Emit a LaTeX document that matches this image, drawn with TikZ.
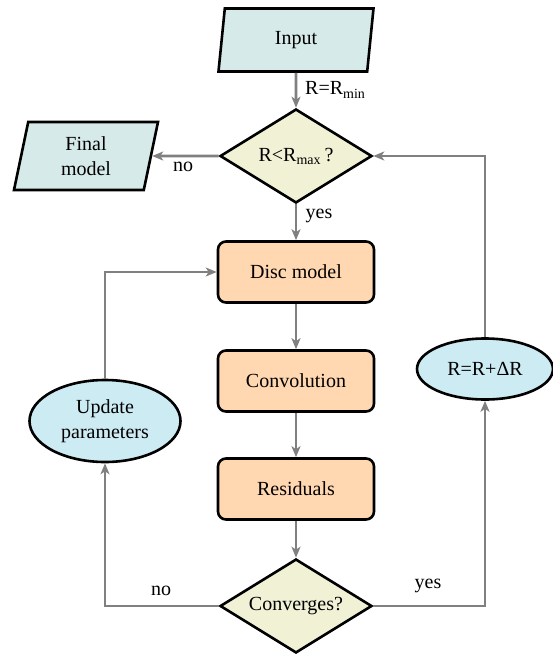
\documentclass[tikz,border=0pt]{standalone}
\usetikzlibrary{shapes.geometric,arrows.meta}
\usepackage{fontspec}
\setmainfont{Liberation Serif}
\newfontfamily\tnr{Liberation Serif}
\newcommand\dfont{\tnr\fontsize{20}{25}\selectfont}
\definecolor{iofill}{RGB}{214,234,233}
\definecolor{decfill}{RGB}{241,241,214}
\definecolor{boxfill}{RGB}{255,216,177}
\definecolor{ellfill}{RGB}{205,235,243}
\definecolor{linegray}{RGB}{128,128,128}
\tikzset{
  iobox/.style={font=\dfont, trapezium, trapezium left angle=70, trapezium right angle=110,
    trapezium stretches body=true, draw=black, line width=2.6pt, fill=iofill,
    inner sep=0pt, align=center},
  decbox/.style={font=\dfont, diamond, draw=black, line width=2.6pt, fill=decfill, aspect=1.6,
    inner sep=0pt, minimum width=152pt, minimum height=94pt},
  procbox/.style={font=\dfont, rectangle, rounded corners=8pt, draw=black, line width=2.6pt,
    fill=boxfill, minimum width=156pt, minimum height=61pt, inner sep=0pt},
  ellbox/.style={font=\dfont, ellipse, draw=black, line width=2.6pt, fill=ellfill,
    inner sep=0pt, align=center},
  flow/.style={draw=linegray, line width=2.6pt,
    -{Stealth[length=11pt,width=9pt,inset=3pt]}},
  lbl/.style={font=\dfont, inner sep=0pt}
}
\begin{document}
\begin{tikzpicture}[x=1pt,y=-1pt]
\useasboundingbox (0,0) rectangle (553,654);
\node[iobox, minimum width=155pt, minimum height=63pt] (input) at (296,40) {Input};
\node[decbox] (dec) at (296,156) {R<R\textsubscript{max}\,?};
\node[iobox, minimum width=144pt, minimum height=68pt] (final) at (86,156) {Final\\model};
\node[procbox] (disc) at (296,272) {Disc model};
\node[procbox] (conv) at (296,381) {Convolution};
\node[procbox] (resid) at (296,489) {Residuals};
\node[decbox] (conv2) at (296,606) {Converges?};
\node[ellbox, minimum width=151pt, minimum height=82pt] (upd) at (105,421) {Update\\parameters};
\node[ellbox, minimum width=136pt, minimum height=61pt] (incr) at (485,369) {R=R+ΔR};

\draw[flow] (input.south) -- (dec.north);
\node[lbl, anchor=west] (lrmin) at (305,90) {R=R\textsubscript{min}};
\draw[flow] (dec.west) -- (final.east);
\node[lbl] (lno1) at (183,167) {no};
\draw[flow] (dec.south) -- (disc.north);
\node[lbl] (lyes1) at (319,216) {yes};
\draw[flow] (disc) -- (conv);
\draw[flow] (conv) -- (resid);
\draw[flow] (resid) -- (conv2);
\draw[flow] (conv2.west) -| (upd.south);
\node[lbl] (lno2) at (161,591) {no};
\draw[flow] (upd.north) |- (disc.west);
\draw[flow] (conv2.east) -| (incr.south);
\node[lbl] (lyes2) at (428,586) {yes};
\draw[flow] (incr.north) |- (dec.east);
\end{tikzpicture}
\end{document}
